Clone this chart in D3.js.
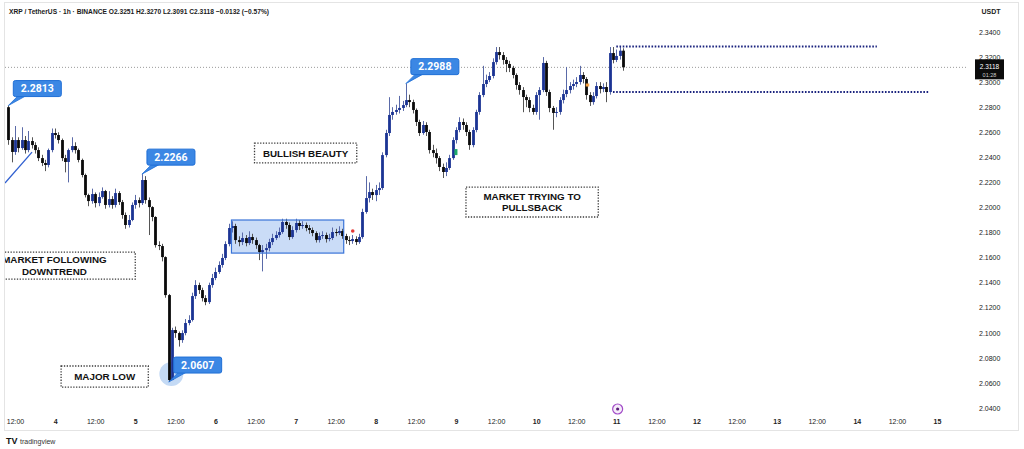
<!DOCTYPE html>
<html><head><meta charset="utf-8">
<script src="https://cdn.jsdelivr.net/npm/d3@7"></script>
<style>
body{margin:0;background:#fff;}
svg{display:block;font-family:"Liberation Sans",Arial,sans-serif;}
</style>
</head><body>
<svg id="c" width="1024" height="449"></svg>
<script>
// ---- DATA (XRP/USDT 1h, starting 3rd 10:00) ----
const firstOpen = 2.2800;
const closes = [
2.2538,2.2443,2.2538,2.2474,2.2538,2.2458,2.2530,2.2498,2.2458,2.2394,
2.2355,2.2339,2.2458,2.2594,2.2578,2.2538,2.2394,2.2363,2.2458,2.2490,
2.2458,2.2379,2.2259,2.2099,2.2051,2.2107,2.2035,2.2083,2.2131,2.2020,
2.2067,2.2020,2.2115,2.2043,2.1940,2.1860,2.1900,2.2020,2.2059,2.2035,
2.2219,2.2059,2.2003,2.1924,2.1700,2.1692,2.1604,2.1301,2.0623,2.1022,
2.0998,2.0942,2.0998,2.1078,2.1102,2.1293,2.1381,2.1341,2.1277,2.1245,
2.1381,2.1437,2.1485,2.1541,2.1597,2.1708,2.1836,2.1852,2.1740,2.1724,
2.1756,2.1716,2.1764,2.1740,2.1700,2.1644,2.1660,2.1676,2.1724,2.1756,
2.1780,2.1804,2.1884,2.1860,2.1764,2.1820,2.1876,2.1852,2.1860,2.1836,
2.1820,2.1796,2.1740,2.1772,2.1780,2.1748,2.1756,2.1804,2.1796,2.1812,
2.1772,2.1740,2.1732,2.1748,2.1724,2.1764,2.1964,2.2075,2.2123,2.2099,
2.2139,2.2155,2.2418,2.2594,2.2738,2.2762,2.2778,2.2794,2.2817,2.2857,
2.2841,2.2778,2.2682,2.2594,2.2658,2.2602,2.2458,2.2434,2.2394,2.2323,
2.2283,2.2315,2.2394,2.2538,2.2618,2.2682,2.2658,2.2602,2.2498,2.2618,
2.2762,2.2897,2.2985,2.3017,2.3049,2.3160,2.3240,2.3216,2.3177,2.3145,
2.3113,2.3057,2.2977,2.2937,2.2881,2.2857,2.2794,2.2762,2.2897,2.2937,
2.3153,2.2921,2.2794,2.2754,2.2762,2.2857,2.2905,2.2937,2.2969,2.2985,
2.3001,2.3057,2.3025,2.2897,2.2841,2.2889,2.2969,2.2945,2.2961,2.2921,
2.3232,2.3177,2.3209,2.3251,2.3118];
const highs = [
2.2813,2.2560,2.2650,2.2560,2.2640,2.2570,2.2610,2.2560,2.2520,2.2480,
2.2420,2.2380,2.2470,2.2630,2.2630,2.2600,2.2550,2.2420,2.2470,2.2560,
2.2520,2.2470,2.2390,2.2270,2.2110,2.2150,2.2120,2.2120,2.2160,2.2140,
2.2130,2.2090,2.2150,2.2130,2.2060,2.1960,2.1940,2.2040,2.2100,2.2080,
2.2266,2.2250,2.2080,2.2010,2.1930,2.1730,2.1710,2.1610,2.1310,2.1040,
2.1050,2.1010,2.1020,2.1110,2.1140,2.1320,2.1420,2.1400,2.1360,2.1300,
2.1400,2.1470,2.1520,2.1570,2.1630,2.1730,2.1870,2.1890,2.1870,2.1770,
2.1800,2.1780,2.1810,2.1790,2.1760,2.1710,2.1700,2.1710,2.1750,2.1790,
2.1810,2.1840,2.1910,2.1910,2.1880,2.1850,2.1910,2.1900,2.1890,2.1880,
2.1860,2.1840,2.1810,2.1800,2.1810,2.1800,2.1790,2.1840,2.1830,2.1850,
2.1830,2.1790,2.1770,2.1780,2.1770,2.1790,2.1990,2.2250,2.2200,2.2150,
2.2180,2.2200,2.2440,2.2620,2.2880,2.2800,2.2820,2.2890,2.2850,2.2988,
2.2900,2.2860,2.2790,2.2700,2.2690,2.2680,2.2620,2.2500,2.2470,2.2410,
2.2350,2.2360,2.2420,2.2560,2.2640,2.2720,2.2710,2.2680,2.2620,2.2640,
2.2780,2.2920,2.3130,2.3060,2.3080,2.3190,2.3280,2.3280,2.3240,2.3200,
2.3170,2.3130,2.3070,2.3000,2.2960,2.2900,2.2880,2.2820,2.2920,2.2960,
2.3200,2.3170,2.2940,2.2810,2.2800,2.2880,2.2940,2.3120,2.3000,2.3020,
2.3040,2.3130,2.3080,2.3040,2.2920,2.2920,2.3000,2.3000,2.2990,2.3000,
2.3280,2.3280,2.3260,2.3280,2.3270];
const lows = [
2.2500,2.2360,2.2420,2.2440,2.2460,2.2430,2.2440,2.2470,2.2430,2.2370,
2.2330,2.2290,2.2320,2.2440,2.2550,2.2510,2.2370,2.2280,2.2200,2.2440,
2.2430,2.2360,2.2240,2.2080,2.2010,2.2030,2.2000,2.2010,2.2070,2.1990,
2.2000,2.1990,2.2000,2.2020,2.1910,2.1830,2.1840,2.1890,2.1990,2.2000,
2.2020,2.2030,2.1780,2.1890,2.1680,2.1660,2.1570,2.1280,2.0607,2.0640,
2.0960,2.0890,2.0920,2.0980,2.1060,2.1090,2.1270,2.1310,2.1250,2.1220,
2.1230,2.1360,2.1420,2.1470,2.1520,2.1580,2.1690,2.1800,2.1710,2.1690,
2.1700,2.1690,2.1700,2.1710,2.1670,2.1580,2.1490,2.1590,2.1650,2.1700,
2.1740,2.1760,2.1790,2.1830,2.1740,2.1750,2.1800,2.1820,2.1830,2.1810,
2.1790,2.1770,2.1720,2.1720,2.1750,2.1720,2.1730,2.1740,2.1770,2.1780,
2.1750,2.1710,2.1700,2.1710,2.1700,2.1710,2.1750,2.1950,2.2040,2.2060,
2.2050,2.2100,2.2140,2.2400,2.2570,2.2700,2.2740,2.2750,2.2770,2.2800,
2.2800,2.2750,2.2650,2.2570,2.2580,2.2570,2.2430,2.2400,2.2350,2.2290,
2.2235,2.2250,2.2300,2.2380,2.2510,2.2600,2.2620,2.2570,2.2460,2.2480,
2.2600,2.2740,2.2880,2.2960,2.3000,2.3030,2.3140,2.3180,2.3140,2.3080,
2.3080,2.3030,2.2940,2.2900,2.2760,2.2800,2.2760,2.2740,2.2740,2.2700,
2.2920,2.2890,2.2760,2.2620,2.2720,2.2740,2.2830,2.2880,2.2910,2.2940,
2.2960,2.2980,2.2990,2.2860,2.2810,2.2820,2.2870,2.2910,2.2920,2.2840,
2.2900,2.3150,2.3160,2.3180,2.3091];
const yTicks = [2.04,2.06,2.08,2.10,2.12,2.14,2.16,2.18,2.20,2.22,2.24,2.26,2.28,2.30,2.32,2.34];
const xTickLabels = ["12:00","4","12:00","5","12:00","6","12:00","7","12:00","8","12:00","9","12:00","10","12:00","11","12:00","12","12:00","13","12:00","14","12:00","15"];
const callouts = [{i:0,v:2.2813},{i:40,v:2.2266},{i:48,v:2.0607},{i:119,v:2.2988}];
const lastPrice = 2.3118;

// ---- SETUP ----
const svg = d3.select("#c");
const start = new Date(2025,0,3,10);
const tAt = h => new Date(+start + h*3600e3);
const x = d3.scaleTime().domain([new Date(2025,0,3,12), new Date(2025,0,15,0)]).range([15,937]);
const y = d3.scaleLinear().domain([2.04,2.34]).range([408,32]);
const X = h => x(tAt(h));

const data = closes.map((c,i)=>({t:tAt(i), o:i?closes[i-1]:firstOpen, h:highs[i], l:lows[i], c}));

svg.append("rect").attr("width",1024).attr("height",449).attr("fill","#fff");
svg.append("rect").attr("x",4.5).attr("y",2.5).attr("width",1014).attr("height",428)
  .attr("fill","none").attr("stroke","#e4e4e4");

svg.append("defs").append("clipPath").attr("id","plot")
  .append("rect").attr("x",5).attr("y",3).attr("width",963).attr("height",412);
const g = svg.append("g").attr("clip-path","url(#plot)");

// header
svg.append("text").attr("x",9).attr("y",14).attr("font-size",7.2).attr("fill","#1a1a1a")
  .attr("font-weight","bold").attr("textLength",260).attr("lengthAdjust","spacingAndGlyphs")
  .text("XRP / TetherUS · 1h · BINANCE  O2.3251  H2.3270  L2.3091  C2.3118  −0.0132 (−0.57%)");
svg.append("text").attr("x",991).attr("y",14).attr("text-anchor","middle").attr("font-size",7)
  .attr("font-weight","bold").attr("fill","#222").text("USDT");

// range box fill (under candles)
const bx0 = X(66.8), bx1 = X(100.4), by0 = y(2.1900), by1 = y(2.1636);
g.append("rect").attr("x",bx0).attr("y",by0).attr("width",bx1-bx0).attr("height",by1-by0)
  .attr("fill","#cadcf7");

// low circle
g.append("circle").attr("cx",X(48.8)).attr("cy",y(2.0671)).attr("r",12).attr("fill","#c4daf5");

// price line
g.append("line").attr("x1",5).attr("x2",968).attr("y1",y(lastPrice)).attr("y2",y(lastPrice))
  .attr("stroke","#9a9a9a").attr("stroke-width",1).attr("stroke-dasharray","1,2");

// candles
const cg = g.append("g");
cg.selectAll("line.w").data(data).join("line").attr("class","w")
  .attr("x1",d=>Math.round(x(d.t))+0.5).attr("x2",d=>Math.round(x(d.t))+0.5)
  .attr("y1",d=>y(d.h)).attr("y2",d=>y(d.l))
  .attr("stroke",d=>d.c>=d.o?"#5a6aa8":"#555").attr("stroke-width",1);
cg.selectAll("rect.b").data(data).join("rect").attr("class","b")
  .attr("x",d=>Math.round(x(d.t))-0.9).attr("width",2.8)
  .attr("y",d=>y(Math.max(d.o,d.c)))
  .attr("height",d=>Math.max(1,Math.abs(y(d.o)-y(d.c))))
  .attr("fill",d=>d.c>=d.o?"#1b3494":"#0a0a0a");

// range box border
g.append("rect").attr("x",bx0).attr("y",by0).attr("width",bx1-bx0).attr("height",by1-by0)
  .attr("fill","none").attr("stroke","#3a74d8").attr("stroke-width",1.2);

// trend line
g.append("line").attr("x1",X(-1)).attr("y1",y(2.2195)).attr("x2",X(7.1)).attr("y2",y(2.2442))
  .attr("stroke","#2f5fd0").attr("stroke-width",1.3);

// dotted levels
g.append("line").attr("x1",X(182)).attr("x2",X(260)).attr("y1",y(2.3285)).attr("y2",y(2.3285))
  .attr("stroke","#1a237e").attr("stroke-width",2).attr("stroke-dasharray","1.6,1.6");
g.append("line").attr("x1",X(181)).attr("x2",X(275.6)).attr("y1",y(2.2921)).attr("y2",y(2.2921))
  .attr("stroke","#1a237e").attr("stroke-width",2).attr("stroke-dasharray","1.6,1.6");

// small markers
g.append("circle").attr("cx",X(103.1)).attr("cy",y(2.1812)).attr("r",1.8).attr("fill","#e53935");
g.append("rect").attr("x",X(134)-1.5).attr("y",y(2.2442)-3).attr("width",3).attr("height",6).attr("fill","#1faa6a");
g.append("rect").attr("x",X(173.3)-1.5).attr("y",y(2.2977)-1.5).attr("width",3.5).attr("height",3).attr("fill","#f5a142");

// dotted text boxes
function noteBox(h0,h1,p0,p1,lines,hc){
  const x0=X(h0), x1=X(h1), y0=y(p0), y1=y(p1);
  g.append("rect").attr("x",x0).attr("y",y0).attr("width",x1-x0).attr("height",y1-y0)
    .attr("fill","#fff").attr("stroke","#3a3a3a").attr("stroke-width",1.3).attr("stroke-dasharray","1.3,1.5");
  const cx = X(hc===undefined?(h0+h1)/2:hc);
  const cy = (y0+y1)/2, lh = 11.5;
  lines.forEach((s,k)=>{
    g.append("text").attr("x",cx).attr("y",cy+(k-(lines.length-1)/2)*lh+3.5)
      .attr("text-anchor","middle").attr("font-size",9.8).attr("font-weight","bold").attr("fill","#111").text(s);
  });
}
noteBox(-9.4,38.0,2.1644,2.1429,["MARKET FOLLOWING","DOWNTREND"],13.8);
noteBox(15.8,41.9,2.0735,2.0567,["MAJOR LOW"]);
noteBox(73.7,104.3,2.2514,2.2355,["BULLISH BEAUTY"]);
noteBox(137,176.6,2.2163,2.1924,["MARKET TRYING TO","PULLSBACK"]);

// callouts
callouts.forEach(c=>{
  const ax = X(c.i), ay = y(c.v);
  const bx = ax+5, byy = ay-25, w = 48, h = 16;
  g.append("path").attr("d",`M${bx+5},${byy+h-1} L${bx+13},${byy+h-1} L${ax},${ay} Z`)
    .attr("fill","#3b87e4").attr("stroke","#1f6fd6").attr("stroke-width",0.8);
  g.append("rect").attr("x",bx).attr("y",byy).attr("width",w).attr("height",h).attr("rx",2)
    .attr("fill","#3b87e4").attr("stroke","#1f6fd6").attr("stroke-width",1);
  g.append("text").attr("x",bx+w/2).attr("y",byy+h/2+3.7).attr("text-anchor","middle")
    .attr("font-family","Roboto, sans-serif").attr("font-size",10.5).attr("font-weight","bold")
    .attr("fill","#fff").text(d3.format(".4f")(c.v));
});

// y axis
const ya = svg.append("g").attr("transform","translate(979,0)")
  .call(d3.axisRight(y).tickValues(yTicks).tickFormat(d3.format(".4f")).tickSize(0).tickPadding(0));
ya.select(".domain").remove();
ya.selectAll("text").attr("font-size",7).attr("fill","#222").attr("font-family","Liberation Sans, Arial, sans-serif");

// last price tag
const ly = y(lastPrice);
svg.append("rect").attr("x",975).attr("y",ly-8).attr("width",29).attr("height",20).attr("fill","#0c0c0c");
svg.append("text").attr("x",989.5).attr("y",ly+1.5).attr("text-anchor","middle").attr("font-size",6.5)
  .attr("fill","#fff").text(d3.format(".4f")(lastPrice));
svg.append("text").attr("x",989.5).attr("y",ly+9.5).attr("text-anchor","middle").attr("font-size",5.5)
  .attr("fill","#ccc").text("01:28");

// x axis
const xTicks = xTickLabels.map((s,k)=>new Date(+new Date(2025,0,3,12) + k*12*3600e3));
const xa = svg.append("g").attr("transform","translate(0,416)")
  .call(d3.axisBottom(x).tickValues(xTicks).tickFormat((d,k)=>xTickLabels[k]).tickSize(0).tickPadding(3));
xa.select(".domain").remove();
xa.selectAll("text").attr("font-size",7).attr("fill","#222").attr("font-family","Liberation Sans, Arial, sans-serif")
  .attr("font-weight",(d,k)=>xTickLabels[k]==="12:00"?"normal":"bold");

// event icon
const ex = X(182.4);
svg.append("circle").attr("cx",ex).attr("cy",409).attr("r",5).attr("fill","#f6ecfa").attr("stroke","#a24cc8").attr("stroke-width",1.2);
svg.append("circle").attr("cx",ex).attr("cy",409).attr("r",1.6).attr("fill","#5a1f78");

// tradingview logo
svg.append("text").attr("x",6).attr("y",444).attr("font-size",9).attr("font-weight","bold").attr("fill","#111").text("TV");
svg.append("text").attr("x",20).attr("y",443.5).attr("font-size",7).attr("fill","#333").text("tradingview");
</script>
</body></html>
